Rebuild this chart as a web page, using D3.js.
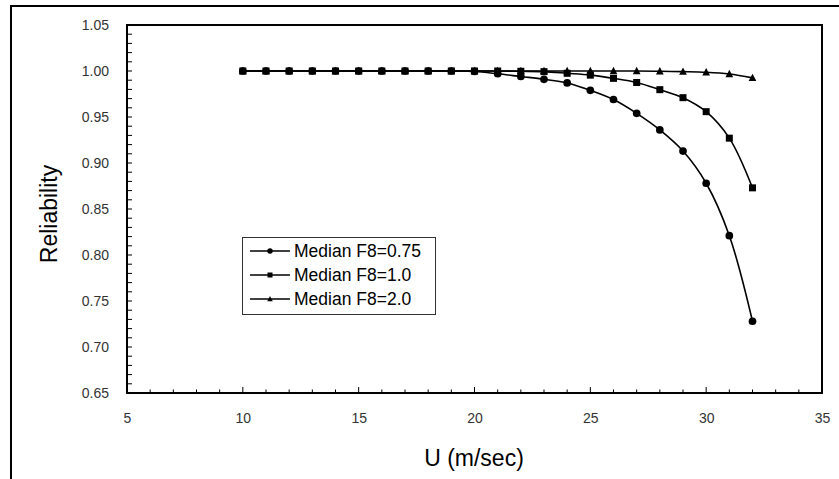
<!DOCTYPE html>
<html><head><meta charset="utf-8">
<script src="https://cdn.jsdelivr.net/npm/d3@7"></script>
<style>body{margin:0;background:#fff}svg{display:block}text{font-family:"Liberation Sans",Arial,sans-serif}</style>
</head><body><svg id="c" width="839" height="479"></svg>
<script>
const speeds = [10,11,12,13,14,15,16,17,18,19,20,21,22,23,24,25,26,27,28,29,30,31,32];
const f075 = [1.000,1.000,1.000,1.000,1.000,1.000,1.000,1.000,1.000,1.000,0.9995,0.997,0.994,0.991,0.987,0.979,0.969,0.954,0.936,0.913,0.878,0.821,0.728];
const f100 = [1.000,1.000,1.000,1.000,1.000,1.000,1.000,1.000,1.000,1.000,1.000,1.000,0.9997,0.9993,0.9975,0.9955,0.992,0.9875,0.9797,0.971,0.9558,0.927,0.873];
const f200 = [1.000,1.000,1.000,1.000,1.000,1.000,1.000,1.000,1.000,1.000,1.000,1.000,1.000,1.000,1.000,1.000,1.000,1.000,0.9997,0.9993,0.9986,0.9967,0.9925];
const seriesNames = ["Median F8=0.75","Median F8=1.0","Median F8=2.0"];
const seriesMarkers = ["circle","square","triangle"];
const xTicks = [5,10,15,20,25,30,35];
const yTicks = [0.65,0.70,0.75,0.80,0.85,0.90,0.95,1.00,1.05];

const svg = d3.select("#c");
const L=127, T=25, R=822, B=393;
const x = d3.scaleLinear().domain([5,35]).range([L,R]);
const y = d3.scaleLinear().domain([0.65,1.05]).range([B,T]);

// outer frame
svg.append("rect").attr("x",11).attr("y",6).attr("width",900).attr("height",600)
  .attr("fill","none").attr("stroke","#000").attr("stroke-width",2);

// minor ticks
const g = svg.append("g");
d3.range(5,35.001,1).forEach(v=>{
  const major = Math.abs(v%5)<1e-9;
  g.append("line").attr("x1",x(v)).attr("x2",x(v)).attr("y1",B).attr("y2",B-(major?6:3.5))
   .attr("stroke","#000").attr("stroke-width",1);
});
d3.range(0,41).forEach(i=>{
  const v = 0.65+i*0.01;
  g.append("line").attr("x1",L).attr("x2",L+5).attr("y1",y(v)).attr("y2",y(v))
   .attr("stroke","#000").attr("stroke-width",1);
});

// plot frame
svg.append("rect").attr("x",L).attr("y",T).attr("width",R-L).attr("height",B-T)
  .attr("fill","none").attr("stroke","#000").attr("stroke-width",2);

const xa = svg.append("g").attr("transform",`translate(0,${B})`)
  .call(d3.axisBottom(x).tickValues(xTicks).tickSize(0).tickPadding(20).tickFormat(d3.format("d")));
const ya = svg.append("g").attr("transform",`translate(${L},0)`)
  .call(d3.axisLeft(y).tickValues(yTicks).tickSize(0).tickPadding(18).tickFormat(d3.format(".2f")));
[xa,ya].forEach(a=>{a.select(".domain").remove();
  a.selectAll("text").attr("font-family","Liberation Sans, Arial, sans-serif").attr("font-size",14).attr("fill","#333");});

svg.append("text").attr("x",474).attr("y",466).attr("text-anchor","middle")
  .attr("font-size",23).attr("fill","#000").text("U (m/sec)");
svg.append("text").attr("transform","translate(57,214) rotate(-90)").attr("text-anchor","middle")
  .attr("font-size",23).attr("fill","#000").text("Reliability");

const data = [f075,f100,f200];
const line = d3.line().x((d,i)=>x(speeds[i])).y(d=>y(d)).curve(d3.curveCatmullRom.alpha(0.5));
function marker(sel,type,cx,cy,s){
  if(type==="circle") sel.append("circle").attr("cx",cx).attr("cy",cy).attr("r",s*0.55).attr("fill","#000");
  else if(type==="square") sel.append("rect").attr("x",cx-s/2).attr("y",cy-s/2).attr("width",s).attr("height",s).attr("fill","#000");
  else sel.append("path").attr("d",`M${cx},${cy-s*0.6}L${cx+s*0.55},${cy+s*0.45}L${cx-s*0.55},${cy+s*0.45}Z`).attr("fill","#000");
}
data.forEach((vals,k)=>{
  svg.append("path").attr("d",line(vals)).attr("fill","none").attr("stroke","#000").attr("stroke-width",1.6);
  const mg = svg.append("g");
  vals.forEach((v,i)=>marker(mg,seriesMarkers[k],x(speeds[i]),y(v),7));
});

// legend
const lg = svg.append("g");
lg.append("rect").attr("x",242.5).attr("y",237.5).attr("width",193).attr("height",77)
  .attr("fill","#fff").attr("stroke","#333").attr("stroke-width",1);
seriesNames.forEach((n,k)=>{
  const cy = 251+k*24;
  lg.append("line").attr("x1",250).attr("x2",290).attr("y1",cy).attr("y2",cy).attr("stroke","#000").attr("stroke-width",1.6);
  marker(lg,seriesMarkers[k],270,cy,5);
  lg.append("text").attr("x",294).attr("y",cy+6).attr("font-size",17.5).attr("fill","#000").text(n);
});
</script></body></html>
